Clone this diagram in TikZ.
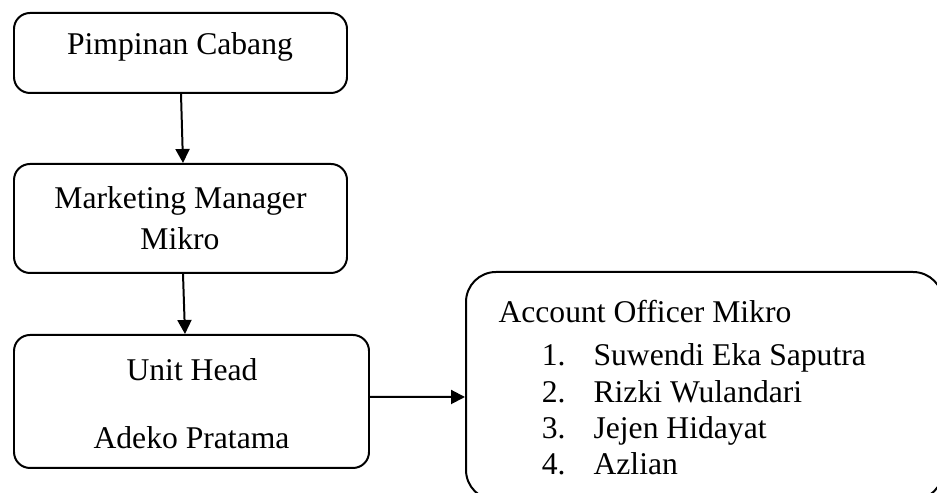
\documentclass[tikz,border=0pt]{standalone}
\usepackage{fontspec}
\setmainfont{Liberation Serif}
\usetikzlibrary{positioning, arrows.meta}

\begin{document}
\begin{tikzpicture}[
  >={Triangle[length=0.42cm, width=0.42cm]},
  box/.style={draw, line width=1.7pt, rounded corners=0.48cm, inner sep=0pt},
  txt/.style={font=\fontsize{27pt}{33pt}\selectfont, inner sep=0pt, anchor=base},
  link/.style={->, line width=1.7pt}
]
\useasboundingbox (0,0) rectangle (28.11,14.79);
% Pimpinan Cabang
\node[box, minimum width=9.99cm, minimum height=2.4cm] (pc) at (5.415,13.2) {};
\node[txt] (pct) at (5.4,13.14) {Pimpinan Cabang};

% Marketing Manager Mikro
\node[box, minimum width=9.99cm, minimum height=3.27cm] (mm) at (5.415,8.235) {};
\node[txt] (mmt1) at (5.415,8.52) {Marketing Manager};
\node[txt] (mmt2) at (5.4,7.29) {Mikro};

% Unit Head
\node[box, minimum width=10.65cm, minimum height=3.99cm] (uh) at (5.745,2.745) {};
\node[txt] (uht1) at (5.76,3.36) {Unit Head};
\node[txt] (uht2) at (5.745,1.32) {Adeko Pratama};

% Account Officer Mikro (runs off the right and bottom edge)
\node[box, rounded corners=0.9cm, minimum width=14.31cm, minimum height=6.84cm] (ao) at (21.135,3.21) {};
\node[txt, anchor=base west] (aot) at (14.95,5.11) {Account Officer Mikro};
\foreach \n/\name in {1/Suwendi Eka Saputra, 2/Rizki Wulandari, 3/Jejen Hidayat, 4/Azlian} {
  \node[txt, anchor=base west] (num\n) at (16.25,{3.81-(\n-1)*1.09}) {\n.};
  \node[txt, anchor=base west] (ao\n) at (17.8,{3.81-(\n-1)*1.09}) {\name};
}

% Arrows
\draw[link] ([xshift=0.015cm]pc.south) -- ([xshift=0.075cm]mm.north);
\draw[link] ([xshift=0.075cm]mm.south) -- ([xshift=-0.195cm]uh.north);
\draw[link] ([yshift=0.135cm]uh.east) -- ([yshift=-0.33cm]ao.west);

\end{tikzpicture}
\end{document}
